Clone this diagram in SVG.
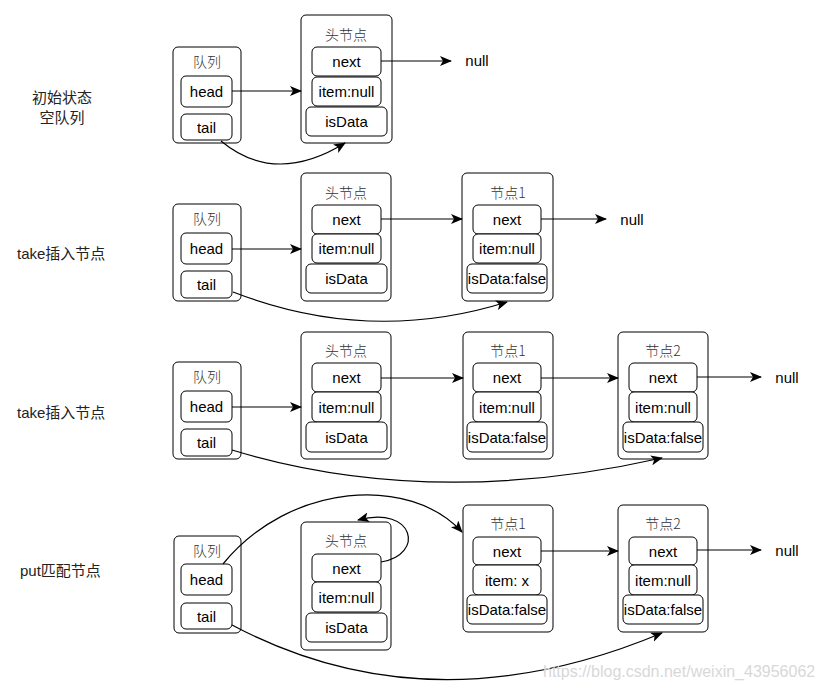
<svg xmlns="http://www.w3.org/2000/svg" width="828" height="693" viewBox="0 0 828 693">
<style>
.box{fill:#fff;stroke:#000;stroke-width:1}
.t{font-family:"Liberation Sans","Noto Sans CJK SC",sans-serif;font-size:15px;fill:#000;text-anchor:middle;dominant-baseline:central}
.cn{font-family:"Noto Sans CJK SC","Liberation Sans",sans-serif;font-size:14px;fill:#333;text-anchor:middle;dominant-baseline:central;font-weight:300}
.lbl{font-family:"Liberation Sans","Noto Sans CJK SC",sans-serif;font-size:15px;fill:#222;dominant-baseline:central}
.c{fill:none;stroke:#000;stroke-width:1.2;marker-end:url(#ah)}
.wm{font-family:"Liberation Sans",sans-serif;font-size:16px;fill:#d8d8d8}
</style>
<defs>
<marker id="ah" viewBox="0 0 12 10" refX="11" refY="5" markerWidth="12" markerHeight="10" markerUnits="userSpaceOnUse" orient="auto">
<path d="M0,0 L12,5 L0,10 L3,5 z" fill="#000"/>
</marker>
</defs>

<!-- left labels -->
<g id="labels">
<text class="lbl" x="62" y="97" text-anchor="middle">初始状态</text>
<text class="lbl" x="62" y="117" text-anchor="middle">空队列</text>
<text class="lbl" x="17" y="253">take插入节点</text>
<text class="lbl" x="17" y="412">take插入节点</text>
<text class="lbl" x="20" y="570">put匹配节点</text>
</g>

<!-- Row 1 -->
<g id="r1-queue">
<rect class="box" x="173" y="47" width="68" height="96" rx="5"/>
<text class="cn" x="207" y="61">队列</text>
<rect class="box" x="181" y="76" width="51" height="31" rx="5"/>
<text class="t" x="206.5" y="91.5">head</text>
<rect class="box" x="181" y="114" width="51" height="26" rx="5"/>
<text class="t" x="206.5" y="127">tail</text>
</g>
<g id="r1-headnode">
<rect class="box" x="301" y="15" width="91" height="128" rx="5"/>
<text class="cn" x="346" y="34">头节点</text>
<rect class="box" x="312" y="47" width="69" height="29" rx="5"/>
<text class="t" x="346.5" y="61.5">next</text>
<rect class="box" x="312" y="77" width="69" height="29" rx="5"/>
<text class="t" x="346.5" y="91.5">item:null</text>
<rect class="box" x="306" y="107" width="81" height="29" rx="5"/>
<text class="t" x="346.5" y="121.5">isData</text>
</g>
<g id="r1-null"><text class="t" x="477" y="60">null</text></g>

<!-- Row 2 -->
<g id="r2-queue">
<rect class="box" x="173" y="204" width="68" height="97" rx="5"/>
<text class="cn" x="207" y="218">队列</text>
<rect class="box" x="181" y="233" width="51" height="31" rx="5"/>
<text class="t" x="206.5" y="248.5">head</text>
<rect class="box" x="181" y="271" width="51" height="27" rx="5"/>
<text class="t" x="206.5" y="284.5">tail</text>
</g>
<g id="r2-headnode">
<rect class="box" x="301" y="173" width="90" height="128" rx="5"/>
<text class="cn" x="346" y="192">头节点</text>
<rect class="box" x="312" y="205" width="69" height="29" rx="5"/>
<text class="t" x="346.5" y="219.5">next</text>
<rect class="box" x="312" y="234" width="69" height="29" rx="5"/>
<text class="t" x="346.5" y="248.5">item:null</text>
<rect class="box" x="306" y="264" width="81" height="29" rx="5"/>
<text class="t" x="346.5" y="278.5">isData</text>
</g>
<g id="r2-node1">
<rect class="box" x="462" y="173" width="91" height="128" rx="5"/>
<text class="cn" x="508" y="192">节点1</text>
<rect class="box" x="473" y="205" width="68" height="29" rx="5"/>
<text class="t" x="507" y="219.5">next</text>
<rect class="box" x="473" y="234" width="68" height="29" rx="5"/>
<text class="t" x="507" y="248.5">item:null</text>
<rect class="box" x="467" y="264" width="80" height="29" rx="5"/>
<text class="t" x="507" y="278.5">isData:false</text>
</g>
<g id="r2-null"><text class="t" x="632" y="219">null</text></g>

<!-- Row 3 -->
<g id="r3-queue">
<rect class="box" x="173" y="362" width="68" height="97" rx="5"/>
<text class="cn" x="207" y="376">队列</text>
<rect class="box" x="181" y="391" width="51" height="31" rx="5"/>
<text class="t" x="206.5" y="406.5">head</text>
<rect class="box" x="181" y="429" width="51" height="27" rx="5"/>
<text class="t" x="206.5" y="442.5">tail</text>
</g>
<g id="r3-headnode">
<rect class="box" x="301" y="332" width="90" height="127" rx="5"/>
<text class="cn" x="346" y="350">头节点</text>
<rect class="box" x="312" y="363" width="69" height="29" rx="5"/>
<text class="t" x="346.5" y="377.5">next</text>
<rect class="box" x="312" y="392" width="69" height="30" rx="5"/>
<text class="t" x="346.5" y="407">item:null</text>
<rect class="box" x="306" y="422" width="81" height="30" rx="5"/>
<text class="t" x="346.5" y="437">isData</text>
</g>
<g id="r3-node1">
<rect class="box" x="463" y="332" width="90" height="127" rx="5"/>
<text class="cn" x="508" y="350">节点1</text>
<rect class="box" x="473" y="363" width="68" height="29" rx="5"/>
<text class="t" x="507" y="377.5">next</text>
<rect class="box" x="473" y="392" width="68" height="30" rx="5"/>
<text class="t" x="507" y="407">item:null</text>
<rect class="box" x="467" y="422" width="80" height="30" rx="5"/>
<text class="t" x="507" y="437">isData:false</text>
</g>
<g id="r3-node2">
<rect class="box" x="618" y="332" width="90" height="127" rx="5"/>
<text class="cn" x="663" y="350">节点2</text>
<rect class="box" x="629" y="363" width="68" height="29" rx="5"/>
<text class="t" x="663" y="377.5">next</text>
<rect class="box" x="629" y="392" width="68" height="30" rx="5"/>
<text class="t" x="663" y="407">item:null</text>
<rect class="box" x="623" y="422" width="80" height="30" rx="5"/>
<text class="t" x="663" y="437">isData:false</text>
</g>
<g id="r3-null"><text class="t" x="787" y="377">null</text></g>

<!-- Row 4 -->
<g id="r4-queue">
<rect class="box" x="174" y="536" width="67" height="97" rx="5"/>
<text class="cn" x="207" y="550">队列</text>
<rect class="box" x="181" y="564" width="51" height="31" rx="5"/>
<text class="t" x="206.5" y="579.5">head</text>
<rect class="box" x="181" y="603" width="51" height="26" rx="5"/>
<text class="t" x="206.5" y="616">tail</text>
</g>
<g id="r4-headnode">
<rect class="box" x="301" y="522" width="90" height="128" rx="5"/>
<text class="cn" x="346" y="540">头节点</text>
<rect class="box" x="312" y="554" width="69" height="28" rx="5"/>
<text class="t" x="346.5" y="568">next</text>
<rect class="box" x="312" y="582" width="69" height="30" rx="5"/>
<text class="t" x="346.5" y="597">item:null</text>
<rect class="box" x="306" y="613" width="81" height="29" rx="5"/>
<text class="t" x="346.5" y="627.5">isData</text>
</g>
<g id="r4-node1">
<rect class="box" x="463" y="505" width="90" height="127" rx="5"/>
<text class="cn" x="508" y="523">节点1</text>
<rect class="box" x="473" y="537" width="68" height="28" rx="5"/>
<text class="t" x="507" y="551">next</text>
<rect class="box" x="473" y="565" width="68" height="30" rx="5"/>
<text class="t" x="507" y="580">item: x</text>
<rect class="box" x="467" y="595" width="80" height="29" rx="5"/>
<text class="t" x="507" y="609.5">isData:false</text>
</g>
<g id="r4-node2">
<rect class="box" x="618" y="505" width="90" height="127" rx="5"/>
<text class="cn" x="663" y="523">节点2</text>
<rect class="box" x="629" y="537" width="68" height="28" rx="5"/>
<text class="t" x="663" y="551">next</text>
<rect class="box" x="629" y="565" width="68" height="30" rx="5"/>
<text class="t" x="663" y="580">item:null</text>
<rect class="box" x="623" y="595" width="80" height="29" rx="5"/>
<text class="t" x="663" y="609.5">isData:false</text>
</g>
<g id="r4-null"><text class="t" x="787" y="550">null</text></g>

<!-- connectors -->
<g id="connectors">
<path class="c" d="M232,91 L301,91"/>
<path class="c" d="M381,61 L451,61"/>
<path class="c" d="M221,141 Q275,186 345,143"/>

<path class="c" d="M232,249 L301,249"/>
<path class="c" d="M381,219 L462,219"/>
<path class="c" d="M541,219 L606,219"/>
<path class="c" d="M233,292 Q370,345 507,302"/>

<path class="c" d="M232,407 L301,407"/>
<path class="c" d="M381,378 L463,378"/>
<path class="c" d="M541,378 L618,378"/>
<path class="c" d="M697,377 L761,377"/>
<path class="c" d="M232,450 Q430,510 662,458"/>

<path class="c" d="M223,564 C290,482 410,475 462,532"/>
<path class="c" d="M381,562 C425,555 415,505 358,520"/>
<path class="c" d="M541,551 L618,551"/>
<path class="c" d="M697,550 L761,550"/>
<path class="c" d="M232,625 Q430,730 662,633"/>
</g>

<text class="wm" x="543" y="677">https://blog.csdn.net/weixin_43956062</text>
</svg>
